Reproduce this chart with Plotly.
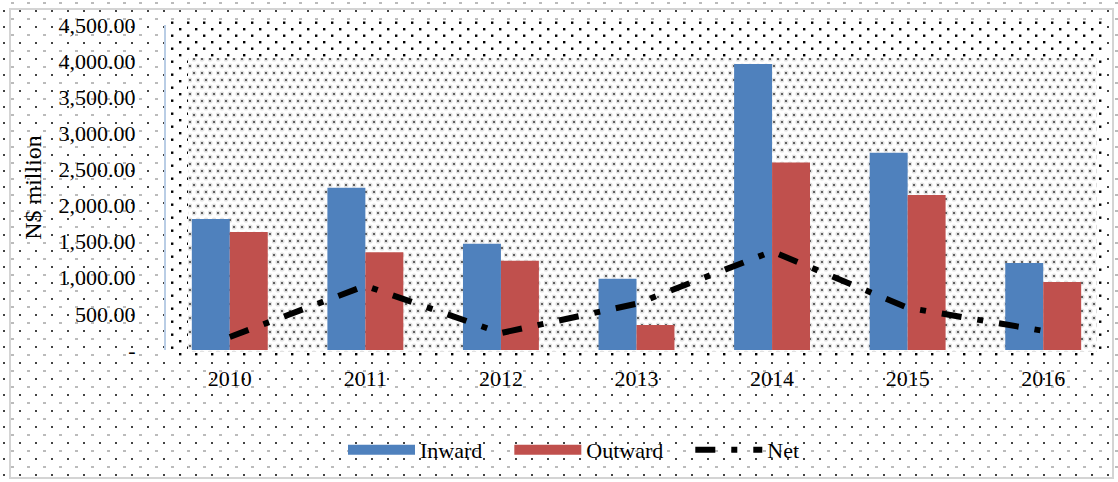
import base64
import plotly.graph_objects as go

# ---- data (N$ million) ----
years = ["2010", "2011", "2012", "2013", "2014", "2015", "2016"]
inward = [1815, 2245, 1470, 985, 3960, 2730, 1205]
outward = [1635, 1355, 1235, 345, 2595, 2145, 940]
net = [180, 890, 235, 640, 1365, 585, 265]
y_tick_vals = [0, 500, 1000, 1500, 2000, 2500, 3000, 3500, 4000, 4500]
y_tick_text = ["-", "500.00", "1,000.00", "1,500.00", "2,000.00", "2,500.00",
               "3,000.00", "3,500.00", "4,000.00", "4,500.00"]

W, H = 1118, 482
L, R, T, B = 166, 7, 25, 132
PW, PH = W - L - R, H - T - B

FONT = "Liberation Serif, Times New Roman, serif"
BLUE = "#4F81BD"
RED = "#C0504D"
PAD = "\u00a0\u00a0\u00a0\u00a0"

# dotted background texture (style only)
svg = f'''<svg xmlns="http://www.w3.org/2000/svg" width="{W}" height="{H}" viewBox="0 0 {W} {H}" preserveAspectRatio="none">
<defs>
<pattern id="p1" patternUnits="userSpaceOnUse" width="16" height="16">
<rect x="3" y="10" width="2" height="2" fill="#444"/>
<rect x="11" y="2.5" width="3" height="1" fill="#777"/>
</pattern>
<pattern id="p2" patternUnits="userSpaceOnUse" width="16" height="13">
<rect x="3" y="2" width="2.4" height="2.4" fill="#000"/>
<rect x="11" y="8.5" width="2.4" height="2.4" fill="#000"/>
</pattern>
<pattern id="p3" patternUnits="userSpaceOnUse" width="8" height="14">
<circle cx="2" cy="3" r="2.6" fill="#e2e2e2"/>
<circle cx="2" cy="3" r="1.1" fill="#444"/>
<circle cx="6" cy="10" r="2.6" fill="#e2e2e2"/>
<circle cx="6" cy="10" r="1.1" fill="#444"/>
</pattern>
</defs>
<rect width="{W}" height="{H}" fill="white"/>
<rect width="{W}" height="{H}" fill="url(#p1)"/>
<rect x="10" y="9" width="1103" height="469" fill="none" stroke="#d4d4d4" stroke-width="2"/>
<rect x="167" y="20" width="935" height="336" fill="white"/>
<rect x="167" y="20" width="935" height="336" fill="url(#p2)"/>
<rect x="188" y="58" width="909" height="294" fill="white"/>
<rect x="188" y="58" width="909" height="294" fill="url(#p3)"/>
</svg>'''
src = "data:image/svg+xml;base64," + base64.b64encode(svg.encode()).decode()

fig = go.Figure()
fig.add_trace(go.Bar(x=years, y=inward, name="Inward", marker_color=BLUE,
                     marker_line_width=0, showlegend=False, legendgroup="in"))
fig.add_trace(go.Bar(x=years, y=outward, name="Outward", marker_color=RED,
                     marker_line_width=0, showlegend=False, legendgroup="out"))
# legend proxies with wide swatches
fig.add_trace(go.Scatter(x=[None], y=[None], mode="lines", name="Inward" + PAD,
                         line=dict(color=BLUE, width=14), legendgroup="in"))
fig.add_trace(go.Scatter(x=[None], y=[None], mode="lines", name="Outward" + PAD,
                         line=dict(color=RED, width=14), legendgroup="out"))
fig.add_trace(go.Scatter(x=years, y=net, mode="lines", name="Net",
                         line=dict(color="black", width=6, dash="20px,16px,6px,16px")))

fig.update_layout(
    width=W, height=H,
    margin=dict(l=L, r=R, t=T, b=B, pad=0),
    paper_bgcolor="white",
    plot_bgcolor="rgba(0,0,0,0)",
    font=dict(family=FONT, size=22, color="black"),
    barmode="group", bargap=0.44, bargroupgap=0,
    images=[dict(source=src, xref="paper", yref="paper",
                 x=-L / PW, y=(H - B) / PH, sizex=W / PW, sizey=H / PH,
                 xanchor="left", yanchor="top", sizing="stretch", layer="below")],
    legend=dict(orientation="h", x=(574 - L) / PW, xanchor="center",
                y=(350 - 450) / PH, yanchor="middle", itemwidth=67,
                bgcolor="rgba(0,0,0,0)", font=dict(family=FONT, size=22),
                traceorder="normal"),
    showlegend=True,
)
fig.update_xaxes(type="category", range=[-0.4705, 6.5], showgrid=False,
                 showline=False, zeroline=False, ticks="", ticklabelstandoff=13,
                 tickfont=dict(family=FONT, size=22))
fig.update_yaxes(range=[0, 4500], tickvals=y_tick_vals, ticktext=y_tick_text,
                 showgrid=False, zeroline=False, showline=True,
                 linecolor="#b9cde5", linewidth=2, ticks="",
                 ticklabelstandoff=24, tickfont=dict(family=FONT, size=22),
                 title=dict(text="N$ million", font=dict(family=FONT, size=24),
                            standoff=10))

fig.write_html("out.html")
